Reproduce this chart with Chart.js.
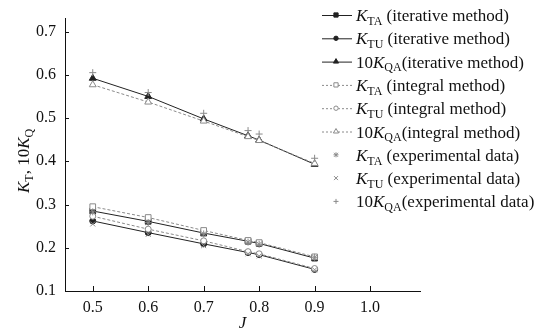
<!DOCTYPE html>
<html>
<head>
<meta charset="utf-8">
<script src="https://cdn.jsdelivr.net/npm/chart.js@4/dist/chart.umd.min.js"></script>
<style>
  html, body { margin: 0; padding: 0; background: #fff; }
  #wrap { width: 541px; height: 334px; position: relative; }
</style>
</head>
<body>
<div id="wrap"><canvas id="chart"></canvas></div>
<script>
// advance ratio J
const advance = [0.5, 0.6, 0.7, 0.78, 0.8, 0.9];

// iterative method
const ktaIter = [0.285, 0.261, 0.234, 0.215, 0.210, 0.176];
const ktuIter = [0.262, 0.235, 0.209, 0.189, 0.184, 0.150];
const kqaIter = [0.592, 0.550, 0.498, 0.459, 0.449, 0.393];

// integral method
const ktaInt = [0.295, 0.270, 0.240, 0.217, 0.212, 0.179];
const ktuInt = [0.273, 0.243, 0.216, 0.191, 0.186, 0.152];
const kqaInt = [0.577, 0.537, 0.493, 0.457, 0.448, 0.395];

// experimental data
const ktaExp = [0.283, 0.258, 0.232, 0.213, 0.208, 0.178];
const ktuExp = [0.255, 0.231, 0.205, 0.186, 0.181, 0.149];
const kqaExp = [0.605, 0.559, 0.511, 0.471, 0.463, 0.407];

const xTicks = [0.5, 0.6, 0.7, 0.8, 0.9, 1.0];
const yTicks = [0.1, 0.2, 0.3, 0.4, 0.5, 0.6, 0.7];

const SERIF = '"Liberation Serif", "Times New Roman", serif';
const DARK = "#222";
const GREY = "#8a8a8a";

const pts = (ys) => advance.map((x, i) => ({ x: x, y: ys[i] }));

const solid = (label, ys, style, r) => ({
  label, data: pts(ys), showLine: true,
  borderColor: DARK, borderWidth: 1, backgroundColor: DARK,
  pointStyle: style, pointRadius: r, pointBorderColor: DARK, pointBackgroundColor: DARK,
  pointBorderWidth: 1
});
const dashed = (label, ys, style, r) => ({
  label, data: pts(ys), showLine: true,
  borderColor: GREY, borderWidth: 1, borderDash: [3, 2],
  pointStyle: style, pointRadius: r, pointBorderColor: GREY, pointBackgroundColor: "#fff",
  pointBorderWidth: 1
});
const exper = (label, ys, style) => ({
  label, data: pts(ys), showLine: false,
  pointStyle: style, pointRadius: 3.5, pointBorderColor: GREY, pointBackgroundColor: GREY,
  pointBorderWidth: 1
});

const datasets = [
  exper("KTA exp", ktaExp, "star"),
  exper("KTU exp", ktuExp, "crossRot"),
  exper("10KQA exp", kqaExp, "cross"),
  dashed("KTA int", ktaInt, "rect", 4),
  dashed("KTU int", ktuInt, "circle", 3),
  dashed("10KQA int", kqaInt, "triangle", 4),
  solid("KTA iter", ktaIter, "rect", 4),
  solid("KTU iter", ktuIter, "circle", 3),
  solid("10KQA iter", kqaIter, "triangle", 4)
];

// legend entries: [prefix, subscript, rest, kind, marker]
const legendItems = [
  ["", "TA", " (iterative method)", "solid", "rect"],
  ["", "TU", " (iterative method)", "solid", "circle"],
  ["10", "QA", "(iterative method)", "solid", "triangle"],
  ["", "TA", " (integral method)", "dashed", "rect"],
  ["", "TU", " (integral method)", "dashed", "circle"],
  ["10", "QA", "(integral method)", "dashed", "triangle"],
  ["", "TA", " (experimental data)", "exp", "star"],
  ["", "TU", " (experimental data)", "exp", "crossRot"],
  ["10", "QA", "(experimental data)", "exp", "cross"]
];

function marker(ctx, style, x, y, r, fill, stroke) {
  ctx.save();
  ctx.strokeStyle = stroke;
  ctx.fillStyle = fill;
  ctx.lineWidth = 1;
  ctx.beginPath();
  if (style === "rect") {
    const s = r * Math.SQRT1_2;
    ctx.rect(x - s, y - s, 2 * s, 2 * s);
    ctx.fill(); ctx.stroke();
  } else if (style === "circle") {
    ctx.arc(x, y, r, 0, Math.PI * 2);
    ctx.fill(); ctx.stroke();
  } else if (style === "triangle") {
    ctx.moveTo(x, y - r);
    ctx.lineTo(x + r * 0.87, y + r * 0.5);
    ctx.lineTo(x - r * 0.87, y + r * 0.5);
    ctx.closePath();
    ctx.fill(); ctx.stroke();
  } else {
    const d = r * 0.8;
    if (style === "cross" || style === "star") {
      ctx.moveTo(x - r, y); ctx.lineTo(x + r, y);
      ctx.moveTo(x, y - r); ctx.lineTo(x, y + r);
    }
    if (style === "crossRot" || style === "star") {
      ctx.moveTo(x - d, y - d); ctx.lineTo(x + d, y + d);
      ctx.moveTo(x + d, y - d); ctx.lineTo(x - d, y + d);
    }
    ctx.stroke();
  }
  ctx.restore();
}

// K with subscript, optional numeric prefix; returns end x
function kText(ctx, x, y, prefix, sub, rest, size) {
  ctx.textBaseline = "alphabetic";
  ctx.textAlign = "left";
  ctx.font = size + "px " + SERIF;
  if (prefix) { ctx.fillText(prefix, x, y); x += ctx.measureText(prefix).width; }
  ctx.font = "italic " + size + "px " + SERIF;
  ctx.fillText("K", x, y); x += ctx.measureText("K").width;
  ctx.font = Math.round(size * 0.72) + "px " + SERIF;
  ctx.fillText(sub, x, y + size * 0.22); x += ctx.measureText(sub).width;
  ctx.font = size + "px " + SERIF;
  if (rest) { ctx.fillText(rest, x, y); x += ctx.measureText(rest).width; }
  return x;
}

const decorations = {
  id: "decorations",
  afterDraw(chart) {
    const ctx = chart.ctx;
    const xs = chart.scales.x, ys = chart.scales.y;
    ctx.save();
    ctx.fillStyle = "#111";
    ctx.strokeStyle = "#111";
    ctx.lineWidth = 1;

    // inward ticks
    ctx.beginPath();
    yTicks.forEach(v => {
      const py = Math.round(ys.getPixelForValue(v)) + 0.5;
      ctx.moveTo(xs.left, py); ctx.lineTo(xs.left + 4, py);
    });
    xTicks.forEach(v => {
      const px = Math.round(xs.getPixelForValue(v)) + 0.5;
      ctx.moveTo(px, ys.bottom); ctx.lineTo(px, ys.bottom - 5);
    });
    ctx.stroke();

    // x title
    ctx.font = "italic 17px " + SERIF;
    ctx.textAlign = "center";
    ctx.textBaseline = "alphabetic";
    ctx.fillText("J", xs.getPixelForValue(0.77), 328);

    // y title (rotated)
    ctx.save();
    ctx.translate(29, 193);
    ctx.rotate(-Math.PI / 2);
    let x = kText(ctx, 0, 0, "", "T", ", 10", 17);
    ctx.font = "italic 17px " + SERIF;
    ctx.fillText("K", x, 0); x += ctx.measureText("K").width;
    ctx.font = "12px " + SERIF;
    ctx.fillText("Q", x, 4);
    ctx.restore();

    // legend
    legendItems.forEach((it, i) => {
      const cy = 15 + i * 23.3;
      const [prefix, sub, rest, kind, style] = it;
      if (kind !== "exp") {
        ctx.save();
        ctx.strokeStyle = kind === "solid" ? DARK : GREY;
        ctx.setLineDash(kind === "solid" ? [] : [2, 2]);
        ctx.beginPath();
        ctx.moveTo(322, cy + 0.5); ctx.lineTo(352, cy + 0.5);
        ctx.stroke();
        ctx.restore();
        if (kind === "solid") marker(ctx, style, 336, cy, style === "circle" ? 2.2 : 3, DARK, DARK);
        else marker(ctx, style, 336, cy, style === "circle" ? 2.2 : 3, "#fff", GREY);
      } else {
        marker(ctx, style, 336, cy, 2.5, GREY, GREY);
      }
      ctx.fillStyle = "#111";
      kText(ctx, 356, cy + 6, prefix, sub, rest, 17);
    });
    ctx.restore();
  }
};

new Chart(document.getElementById("chart"), {
  type: "scatter",
  data: { datasets },
  options: {
    responsive: true,
    maintainAspectRatio: false,
    animation: false,
    layout: { padding: { top: 15, right: 121, bottom: 0, left: 0 } },
    plugins: { legend: { display: false }, tooltip: { enabled: false } },
    scales: {
      x: {
        type: "linear",
        min: 0.45, max: 1.09,
        afterFit: (s) => { s.height = 43; },
        grid: { display: false, drawTicks: false },
        border: { display: true, color: "#111", width: 1 },
        ticks: {
          stepSize: 0.1, includeBounds: false, padding: 7,
          color: "#111", font: { family: SERIF, size: 16 },
          callback: (v) => Number(v).toFixed(1)
        }
      },
      y: {
        type: "linear",
        min: 0.1, max: 0.73,
        afterFit: (s) => { s.width = 65; },
        grid: { display: false, drawTicks: false },
        border: { display: true, color: "#111", width: 1 },
        ticks: {
          stepSize: 0.1, includeBounds: false, padding: 9,
          color: "#111", font: { family: SERIF, size: 16 },
          callback: (v) => Number(v).toFixed(1)
        }
      }
    }
  },
  plugins: [decorations]
});
</script>
</body>
</html>
